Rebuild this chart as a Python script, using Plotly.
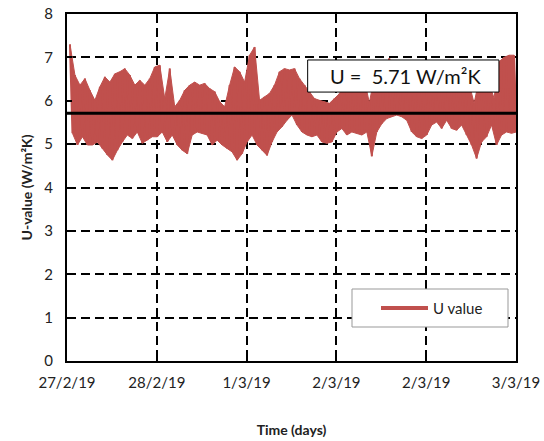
import numpy as np
import plotly.graph_objects as go

# ---- data ----
tick_vals = [0, 1, 2, 3, 4, 5]
tick_labels = ["27/2/19", "28/2/19", "1/3/19", "2/3/19", "2/3/19", "3/3/19"]
y_ticks = [0, 1, 2, 3, 4, 5, 6, 7, 8]
mean_u = 5.71
series_name = "U value"

# upper and lower excursions of the noisy U-value record (W/m2K)
u_high = [7.30, 6.59, 6.36, 6.51, 6.24, 6.01, 6.32, 6.55, 6.43, 6.62,
          6.67, 6.74, 6.59, 6.36, 6.47, 6.36, 6.51, 6.78, 6.82, 6.05,
          6.74, 5.86, 6.01, 6.24, 6.36, 6.43, 6.36, 6.40, 6.28, 6.21,
          5.98, 5.86, 6.36, 6.78, 6.67, 6.43, 7.05, 7.24, 6.01, 6.09,
          6.17, 6.36, 6.67, 6.74, 6.71, 6.74, 6.51, 6.36, 6.21, 6.05,
          6.01, 5.98, 5.94, 6.05, 6.16, 6.40, 6.50, 6.60, 6.45, 6.50,
          5.95, 6.55, 6.60, 6.70, 6.98, 6.60, 6.50, 6.45, 6.55, 6.60,
          6.50, 6.45, 6.45, 6.50, 6.40, 6.55, 6.50, 6.45, 6.60, 6.50,
          6.40, 5.94, 6.50, 6.60, 6.40, 6.06, 6.90, 7.00, 7.05, 7.05]
u_low = [5.25, 4.98, 5.17, 4.98, 4.98, 5.05, 4.90, 4.75, 4.63, 4.86,
         5.05, 5.21, 5.13, 5.28, 5.02, 5.09, 5.17, 5.17, 5.28, 5.05,
         5.21, 4.98, 4.86, 4.78, 5.21, 5.28, 5.25, 5.21, 4.98, 5.09,
         4.98, 4.90, 4.82, 4.63, 4.78, 5.05, 5.21, 4.98, 4.86, 4.74,
         5.05, 5.28, 5.40, 5.55, 5.67, 5.44, 5.28, 5.21, 5.17, 5.21,
         5.05, 5.02, 5.05, 5.28, 5.36, 5.21, 5.28, 5.25, 5.21, 5.28,
         4.72, 5.28, 5.47, 5.59, 5.63, 5.67, 5.63, 5.55, 5.28, 5.17,
         5.13, 5.21, 5.44, 5.51, 5.36, 5.55, 5.36, 5.32, 5.44, 5.21,
         4.98, 4.67, 5.05, 5.17, 5.44, 4.98, 5.21, 5.28, 5.25, 5.28]

# ---- build the alternating time series ----
n = len(u_high)
t = np.linspace(0.033, 4.978, n)
half = (t[1] - t[0]) / 2
xs, ys = [], []
for i in range(n):
    xs += [t[i], t[i] + half]
    ys += [u_high[i], u_low[i]]

RED = "#C0504D"
FONT = "Lato, Carlito, Liberation Sans, sans-serif"
TXT = "#222"

fig = go.Figure()
# dense band of the record
fig.add_trace(go.Scatter(x=list(t) + list((t + half)[::-1]), y=u_high + u_low[::-1],
                         mode="lines", fill="toself", fillcolor=RED,
                         line=dict(color=RED, width=1), showlegend=False,
                         hoverinfo="skip"))
fig.add_trace(go.Scatter(x=xs, y=ys, mode="lines", name=series_name,
                         line=dict(color=RED, width=2, simplify=False),
                         showlegend=False))
fig.add_trace(go.Scatter(x=[0, 5], y=[mean_u, mean_u], mode="lines",
                         line=dict(color="black", width=3), showlegend=False,
                         hoverinfo="skip"))

axis_common = dict(showline=True, linecolor="black", linewidth=2, mirror=True,
                   showgrid=True, gridcolor="black", gridwidth=1.8,
                   griddash="9px,5px", zeroline=False, automargin=False,
                   ticks="inside", ticklen=5, tickcolor="black", tickwidth=2,
                   tickfont=dict(family=FONT, size=15, color=TXT))

fig.update_xaxes(range=[0, 5], tickvals=tick_vals, ticktext=tick_labels,
                 ticklabelstandoff=7,
                 title=dict(text="<b>Time (days)</b>", font=dict(family=FONT, size=14, color=TXT),
                            standoff=35),
                 **axis_common)
fig.update_yaxes(range=[0, 8], tickvals=y_ticks, ticklabelstandoff=9,
                 title=dict(text="<b>U-value (W/m²K)</b>",
                            font=dict(family=FONT, size=14, color=TXT), standoff=8),
                 **axis_common)

# annotation box with mean value
fig.add_shape(type="rect", xref="x", yref="y", x0=2.68, x1=4.81, y0=6.20, y1=6.94,
              line=dict(color="black", width=1), fillcolor="white", layer="above")
fig.add_annotation(x=3.765, y=6.56, xref="x", yref="y",
                   text="U =  %.2f W/m²K" % mean_u, showarrow=False,
                   font=dict(family=FONT, size=20, color="#111"))

# legend box (drawn) with the legend entry inside
fig.add_shape(type="rect", xref="paper", yref="paper",
              x0=(352 - 67) / 449, x1=(508 - 67) / 449,
              y0=(361 - 327) / 347, y1=(361 - 289) / 347,
              line=dict(color="#999", width=1), fillcolor="white", layer="above")
fig.add_shape(type="line", xref="paper", yref="paper",
              x0=(381 - 67) / 449, x1=(428 - 67) / 449,
              y0=(361 - 308) / 347, y1=(361 - 308) / 347,
              line=dict(color=RED, width=4), layer="above")
fig.add_annotation(xref="paper", yref="paper", x=(431 - 67) / 449, y=(361 - 308) / 347,
                   xanchor="left", yanchor="middle", showarrow=False,
                   text=series_name, font=dict(family=FONT, size=15, color=TXT))

fig.update_layout(
    width=544, height=441,
    margin=dict(l=67, r=28, t=14, b=80),
    paper_bgcolor="white", plot_bgcolor="white",
    font=dict(family=FONT, size=14, color=TXT),
    showlegend=False,
)

fig.write_html("out.html", config={"displayModeBar": False},
               post_script="document.body.style.margin='0';document.body.style.overflow='hidden';")
